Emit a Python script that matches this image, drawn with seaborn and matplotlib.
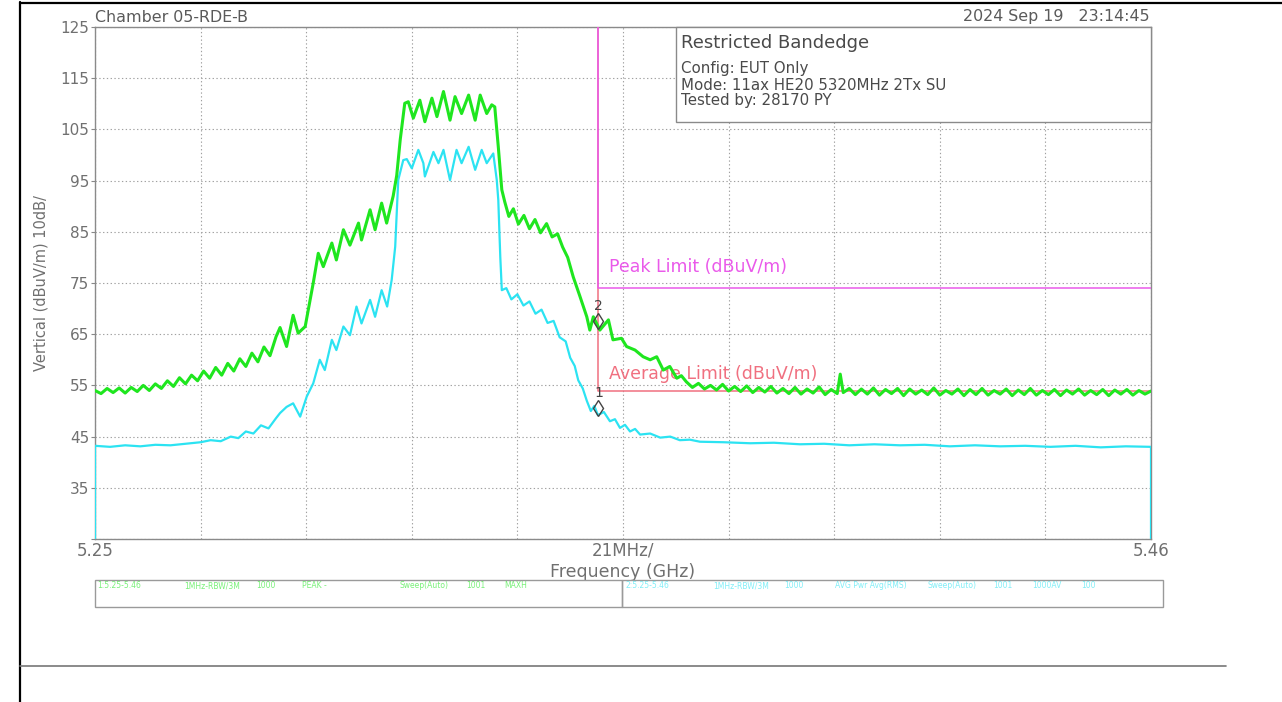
import matplotlib
matplotlib.use("Agg")
import matplotlib.pyplot as plt
from matplotlib.lines import Line2D
from matplotlib.patches import Rectangle
import seaborn as sns

# ---- sweep data (frequency in MHz, level in dBuV/m) ----
peak_freq = [
    5250.0, 5251.2, 5252.4, 5253.6, 5254.8, 5256.0, 5257.2, 5258.4, 5259.6, 5260.8,
    5262.0, 5263.2, 5264.4, 5265.6, 5266.8, 5268.0, 5269.2, 5270.4, 5271.6, 5272.8,
    5274.0, 5275.2, 5276.4, 5277.6, 5278.8, 5280.0, 5281.2, 5282.4, 5283.6, 5284.8,
    5286.0, 5286.8, 5288.1, 5289.4, 5290.4, 5291.8, 5293.4, 5294.4, 5295.4, 5297.1,
    5298.0, 5299.4, 5300.7, 5302.4, 5303.0, 5304.7, 5305.7, 5307.0, 5308.0, 5309.3,
    5310.0, 5310.7, 5311.6, 5312.3, 5313.3, 5314.6, 5315.6, 5317.0, 5318.0, 5319.3,
    5320.6, 5321.6, 5322.9, 5324.3, 5325.6, 5326.6, 5327.9, 5328.9, 5329.5, 5330.2,
    5330.9, 5331.5, 5332.3, 5333.2, 5334.2, 5335.3, 5336.4, 5337.5, 5338.6, 5339.8,
    5340.9, 5342.0, 5343.0, 5344.0, 5345.1, 5346.4, 5347.8, 5348.4, 5349.1, 5350.4,
    5352.1, 5353.0, 5354.7, 5355.7, 5357.4, 5359.0, 5360.4, 5361.7, 5363.0, 5364.3,
    5365.7, 5366.6, 5367.6, 5368.8, 5370.0, 5371.2, 5372.4, 5373.6, 5374.8, 5376.0,
    5377.2, 5378.4, 5379.6, 5380.8, 5382.0, 5383.2, 5384.4, 5385.6, 5386.8, 5388.0,
    5389.2, 5390.4, 5391.6, 5392.8, 5394.0, 5395.2, 5396.4, 5397.6, 5398.2, 5398.8,
    5400.0, 5401.2, 5402.4, 5403.6, 5404.8, 5406.0, 5407.2, 5408.4, 5409.6, 5410.8,
    5412.0, 5413.2, 5414.4, 5415.6, 5416.8, 5418.0, 5419.2, 5420.4, 5421.6, 5422.8,
    5424.0, 5425.2, 5426.4, 5427.6, 5428.8, 5430.0, 5431.2, 5432.4, 5433.6, 5434.8,
    5436.0, 5437.2, 5438.4, 5439.6, 5440.8, 5442.0, 5443.2, 5444.4, 5445.6, 5446.8,
    5448.0, 5449.2, 5450.4, 5451.6, 5452.8, 5454.0, 5455.2, 5456.4, 5457.6, 5458.8,
    5460.0,
]
peak_level = [
    54.0, 53.4, 54.4, 53.6, 54.5, 53.5, 54.6, 53.8, 55.0, 54.0,
    55.3, 54.4, 55.9, 54.8, 56.5, 55.3, 57.0, 55.9, 57.8, 56.4,
    58.5, 57.0, 59.3, 57.8, 60.2, 58.7, 61.3, 59.6, 62.5, 60.8,
    64.5, 66.3, 62.6, 68.7, 65.2, 66.5, 75.0, 80.8, 78.2, 82.8,
    79.5, 85.4, 82.4, 86.7, 83.4, 89.3, 85.4, 90.6, 86.7, 92.0,
    96.0, 103.0, 110.1, 110.4, 107.2, 110.7, 106.5, 111.1, 107.5, 112.4,
    106.8, 111.4, 108.1, 111.7, 106.8, 111.7, 108.1, 109.8, 109.4, 101.6,
    93.2, 90.8, 88.0, 89.5, 86.5, 88.2, 85.6, 87.4, 84.8, 86.6,
    84.0, 84.6, 82.0, 80.0, 76.2, 72.5, 68.4, 65.8, 68.4, 65.8,
    67.8, 63.9, 64.2, 62.6, 61.9, 60.6, 60.0, 60.6, 58.0, 58.7,
    56.4, 56.9, 55.7, 54.6, 55.4, 54.3, 55.0, 54.1, 55.2, 53.9,
    54.8, 53.8, 54.9, 53.6, 54.6, 53.7, 54.8, 53.5, 54.4, 53.4,
    54.6, 53.3, 54.3, 53.5, 54.7, 53.2, 54.2, 53.4, 57.2, 53.6,
    54.4, 53.2, 54.3, 53.3, 54.5, 53.1, 54.2, 53.4, 54.4, 53.0,
    54.3, 53.3, 54.1, 53.2, 54.5, 53.1, 54.0, 53.3, 54.3, 53.0,
    54.2, 53.2, 54.4, 53.1, 54.0, 53.3, 54.3, 53.0, 54.1, 53.2,
    54.4, 53.1, 54.0, 53.2, 54.2, 53.0, 54.1, 53.3, 54.3, 53.1,
    54.0, 53.2, 54.2, 53.0, 54.1, 53.3, 54.2, 53.1, 54.0, 53.3,
    53.9,
]

avg_freq = [
    5250.0, 5250.0, 5253.0, 5256.0, 5259.0, 5262.0, 5265.0, 5268.0, 5271.0, 5273.0,
    5275.0, 5277.0, 5278.5, 5280.0, 5281.5, 5283.0, 5284.5, 5286.0, 5286.8, 5288.1,
    5289.4, 5290.8, 5292.1, 5293.4, 5294.7, 5295.7, 5297.1, 5298.0, 5299.4, 5300.7,
    5302.0, 5303.0, 5304.7, 5305.7, 5307.0, 5308.1, 5309.0, 5309.7, 5310.3, 5311.3,
    5312.0, 5313.0, 5314.3, 5315.3, 5315.6, 5317.3, 5318.3, 5319.3, 5320.6, 5321.9,
    5322.9, 5324.3, 5325.6, 5326.9, 5327.9, 5329.2, 5329.9, 5330.2, 5330.6, 5330.9,
    5331.8, 5332.8, 5334.0, 5335.2, 5336.4, 5337.6, 5338.8, 5340.0, 5341.2, 5342.4,
    5343.6, 5344.5, 5345.4, 5346.1, 5347.0, 5347.8, 5348.6, 5349.3, 5350.0, 5351.2,
    5352.4, 5353.4, 5354.4, 5355.4, 5356.4, 5357.4, 5358.4, 5360.4, 5362.4, 5364.4,
    5366.3, 5368.3, 5370.3, 5375.0, 5380.3, 5385.0, 5390.2, 5395.0, 5400.0, 5405.0,
    5410.1, 5415.0, 5420.0, 5425.0, 5430.0, 5435.0, 5440.0, 5445.0, 5450.0, 5455.0,
    5460.0, 5460.0,
]
avg_level = [
    25.0, 43.2, 43.0, 43.3, 43.1, 43.4, 43.3, 43.6, 43.9, 44.3,
    44.1, 45.0, 44.7, 46.0, 45.6, 47.2, 46.6, 48.6, 49.6, 50.8,
    51.5, 48.9, 52.8, 55.4, 60.0, 58.0, 63.9, 61.9, 66.5, 64.8,
    70.4, 67.1, 71.7, 68.4, 73.6, 70.4, 75.6, 82.1, 95.1, 99.0,
    99.2, 97.4, 101.0, 98.4, 95.8, 100.6, 98.4, 101.0, 95.1, 101.0,
    98.4, 101.6, 97.1, 101.0, 98.4, 100.3, 95.1, 91.2, 80.0, 73.6,
    74.0, 71.8, 72.8, 70.6, 71.4, 69.0, 69.8, 67.2, 67.6, 64.4,
    63.6, 60.4, 58.8, 56.0, 54.4, 52.0, 50.0, 51.0, 49.2, 49.8,
    48.0, 48.4, 46.7, 47.3, 46.0, 46.5, 45.4, 45.6, 44.8, 45.0,
    44.3, 44.4, 44.0, 43.9, 43.7, 43.8, 43.5, 43.6, 43.3, 43.5,
    43.3, 43.4, 43.1, 43.3, 43.1, 43.2, 43.0, 43.2, 42.9, 43.1,
    43.0, 25.0,
]

# ---- limit lines ----
peak_limit_freq = [5350.0, 5350.0, 5460.0]
peak_limit_level = [125.0, 74.0, 74.0]
avg_limit_freq = [5350.0, 5350.0, 5460.0]
avg_limit_level = [125.0, 54.0, 54.0]

# ---- markers ----
marker_ids = ["1", "2"]
marker_freq = [5350.0, 5350.0]
marker_level = [50.6, 67.6]

# ---- axis text ----
x_ticks = [5250 + 21 * k for k in range(11)]
x_tick_labels = ["5.25", "", "", "", "", "21MHz/", "", "", "", "", "5.46"]
y_ticks = list(range(25, 126, 10))
y_tick_labels = [""] + [str(v) for v in range(35, 126, 10)]

info_title = "Restricted Bandedge"
info_lines = ["Config: EUT Only", "Mode: 11ax HE20 5320MHz 2Tx SU", "Tested by: 28170 PY"]
header_left = "Chamber 05-RDE-B"
header_right = "2024 Sep 19   23:14:45"
trace1_fields = ["1:5.25-5.46", "1MHz-RBW/3M", "1000", "PEAK -", "Sweep(Auto)", "1001", "MAXH"]
trace2_fields = ["2:5.25-5.46", "1MHz-RBW/3M", "1000", "AVG Pwr Avg(RMS)", "Sweep(Auto)", "1001", "1000AV", "100"]

GREEN = "#1fe61f"
CYAN = "#2ce3f2"
MAGENTA = "#ea5aea"
REDLIM = "#f07080"
GRID = "#a0a0a0"
TXT = "#707070"

sns.set_theme(style="white")
plt.rcParams["font.family"] = ["DejaVu Sans"]

W, H = 1282, 702
fig = plt.figure(figsize=(W / 100, H / 100), dpi=100)
fig.patch.set_facecolor("white")


def fx(px):
    return px / W


def fy(py):
    return 1 - py / H


ax = fig.add_axes([fx(95), fy(539), fx(1151) - fx(95), fy(27) - fy(539)])
ax.set_facecolor("white")

# traces
sns.lineplot(x=avg_freq, y=avg_level, ax=ax, color=CYAN, lw=1.6,
             estimator=None, sort=False, zorder=4)
sns.lineplot(x=peak_freq, y=peak_level, ax=ax, color=GREEN, lw=2.2,
             estimator=None, sort=False, zorder=5)

# limits
sns.lineplot(x=avg_limit_freq, y=avg_limit_level, ax=ax, color=REDLIM, lw=1.1,
             estimator=None, sort=False, zorder=3)
sns.lineplot(x=peak_limit_freq, y=peak_limit_level, ax=ax, color=MAGENTA, lw=1.1,
             estimator=None, sort=False, zorder=3)
ax.text(5352.3, 76.3, "Peak Limit (dBuV/m)", color=MAGENTA, fontsize=12.5,
        va="bottom", ha="left", zorder=2)
ax.text(5352.3, 55.5, "Average Limit (dBuV/m)", color=REDLIM, fontsize=12.5,
        va="bottom", ha="left", zorder=2)

# markers
for mid, mf, ml in zip(marker_ids, marker_freq, marker_level):
    ax.plot([mf], [ml], marker="d", markersize=8, mfc="none", mec="#444444",
            mew=1.0, zorder=6)
    ax.text(mf + 0.2, ml + 2.9, mid, color="#444444", fontsize=10,
            ha="center", va="center", zorder=6)

ax.set_xlim(5250, 5460)
ax.set_ylim(25, 125)
ax.set_xticks(x_ticks)
ax.set_xticklabels(x_tick_labels, color=TXT, fontsize=12)
ax.set_yticks(y_ticks)
ax.set_yticklabels(y_tick_labels, color=TXT, fontsize=11)
ax.tick_params(axis="x", length=0, pad=2)
ax.tick_params(axis="y", length=3, width=0.8, color="#888888", pad=1, left=True)
ax.grid(True, color=GRID, linestyle=(0, (1.2, 2.2)), lw=0.8)
ax.set_axisbelow(True)
for sp in ax.spines.values():
    sp.set_color("#8a8a8a")
    sp.set_linewidth(1.0)

ax.set_xlabel("Frequency (GHz)", color=TXT, fontsize=12.5, labelpad=2)
ax.set_ylabel("Vertical (dBuV/m) 10dB/", color=TXT, fontsize=10.5, labelpad=9)

# header texts
fig.text(fx(95), fy(17), header_left, color="#5a5a5a", fontsize=11.4, va="center", ha="left")
fig.text(fx(1150), fy(17), header_right, color="#5a5a5a", fontsize=11.4, va="center", ha="right")

# info box
fig.add_artist(Rectangle((fx(676), fy(122)), fx(1151) - fx(676), fy(27) - fy(122),
                         transform=fig.transFigure, facecolor="white",
                         edgecolor="#8a8a8a", lw=1.0, zorder=10))
fig.text(fx(681), fy(43), info_title, color="#4a4a4a", fontsize=13, va="center",
         ha="left", zorder=11)
for i, line in enumerate(info_lines):
    fig.text(fx(681), fy(69 + 16 * i), line, color="#4a4a4a", fontsize=10.8,
             va="center", ha="left", zorder=11)

# trace settings boxes below the plot
fig.add_artist(Rectangle((fx(95), fy(607)), fx(622) - fx(95), fy(580) - fy(607),
                         transform=fig.transFigure, facecolor="none",
                         edgecolor="#9a9a9a", lw=1.0))
fig.add_artist(Rectangle((fx(622), fy(607)), fx(1163) - fx(622), fy(580) - fy(607),
                         transform=fig.transFigure, facecolor="none",
                         edgecolor="#9a9a9a", lw=1.0))
t1_x = [97, 184, 256, 302, 400, 466, 504]
for px, s in zip(t1_x, trace1_fields):
    fig.text(fx(px), fy(586), s, color=GREEN, alpha=0.6, fontsize=5.5, va="center", ha="left")
t2_x = [625, 713, 784, 835, 928, 993, 1032, 1081]
for px, s in zip(t2_x, trace2_fields):
    fig.text(fx(px), fy(586), s, color=CYAN, alpha=0.6, fontsize=5.5, va="center", ha="left")

# page frame lines
fig.add_artist(Line2D([fx(20), fx(20)], [0, fy(2)], color="black", lw=1.6))
fig.add_artist(Line2D([fx(20), 1], [fy(3), fy(3)], color="black", lw=1.6))
fig.add_artist(Line2D([fx(20), fx(1226)], [fy(666), fy(666)], color="#777777", lw=1.2))

fig.savefig("out.png", dpi=100, facecolor="white")
